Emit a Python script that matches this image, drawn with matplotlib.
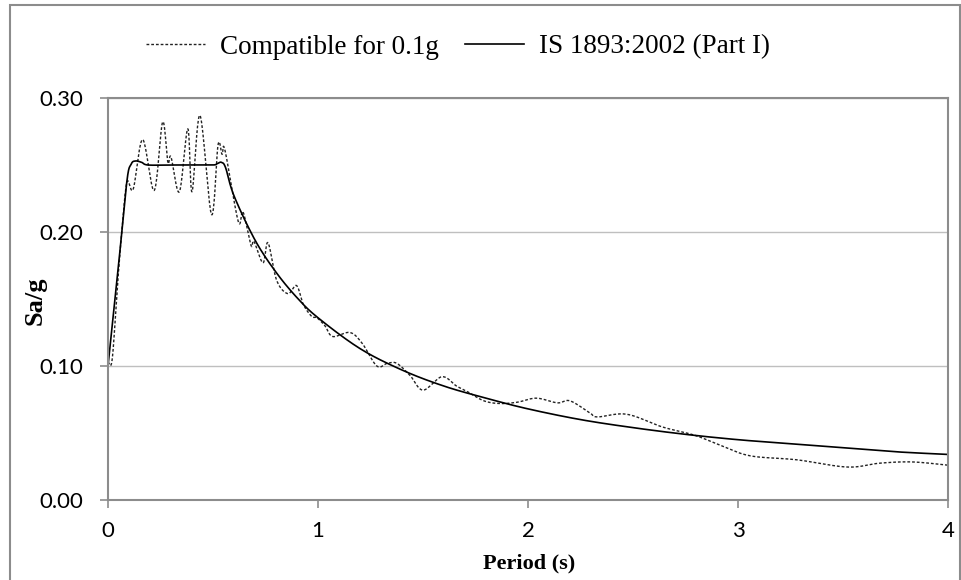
import matplotlib
matplotlib.use('Agg')
import matplotlib.pyplot as plt
import numpy as np

# IS 1893:2002 (Part I) spectrum, 0.1g
is_period = [0.0, 0.05, 0.09, 0.11, 0.13, 0.16, 0.19, 0.3, 0.4, 0.5, 0.52,
             0.54, 0.56, 0.6, 0.7, 0.8, 0.9, 1.0, 1.2, 1.4, 1.6, 1.8, 2.0,
             2.25, 2.5, 2.75, 3.0, 3.25, 3.5, 3.75, 4.0]
is_sa = [0.100, 0.175, 0.238, 0.2505, 0.253, 0.252, 0.250, 0.250, 0.250, 0.250,
         0.251, 0.252, 0.248, 0.227, 0.194, 0.170, 0.151, 0.136, 0.113, 0.097,
         0.085, 0.076, 0.068, 0.060, 0.054, 0.049, 0.045, 0.042, 0.039, 0.036, 0.034]

# spectrum compatible record, 0.1g
cmp_period = [0.0, 0.02, 0.045, 0.065, 0.09, 0.12, 0.165, 0.22, 0.26, 0.285,
              0.30, 0.34, 0.38, 0.40, 0.438, 0.493, 0.524, 0.543, 0.557, 0.62,
              0.643, 0.681, 0.695, 0.738, 0.762, 0.803, 0.856, 0.898, 0.93, 0.97,
              0.995, 1.033, 1.07, 1.152, 1.21, 1.28, 1.33, 1.375, 1.438, 1.50,
              1.59, 1.66, 1.71, 1.79, 1.867, 1.95, 2.04, 2.14, 2.20, 2.295,
              2.33, 2.47, 2.64, 2.79, 2.914, 3.057, 3.28, 3.52, 3.676, 3.83, 4.0]
cmp_sa = [0.103, 0.105, 0.160, 0.199, 0.237, 0.232, 0.269, 0.231, 0.282, 0.252,
          0.256, 0.230, 0.277, 0.230, 0.287, 0.213, 0.265, 0.258, 0.261, 0.208,
          0.215, 0.190, 0.193, 0.177, 0.192, 0.164, 0.154, 0.160, 0.146, 0.137,
          0.136, 0.130, 0.122, 0.125, 0.117, 0.100, 0.102, 0.102, 0.093, 0.082,
          0.092, 0.085, 0.081, 0.074, 0.072, 0.073, 0.076, 0.0725, 0.074, 0.065,
          0.062, 0.064, 0.0545, 0.0485, 0.041, 0.033, 0.030, 0.0246, 0.0275, 0.0284, 0.026]


def smooth(x, y, n=20):
    # Excel-like smoothed line (Catmull-Rom as cubic bezier)
    p = np.column_stack([x, y]).astype(float)
    p = np.vstack([p[0], p, p[-1]])
    out = []
    t = np.linspace(0, 1, n)[:, None]
    for i in range(1, len(p) - 2):
        b0 = p[i]
        b1 = p[i] + (p[i + 1] - p[i - 1]) / 6.0
        b2 = p[i + 1] - (p[i + 2] - p[i]) / 6.0
        b3 = p[i + 1]
        seg = (1 - t)**3 * b0 + 3 * (1 - t)**2 * t * b1 + 3 * (1 - t) * t**2 * b2 + t**3 * b3
        out.append(seg)
    out = np.vstack(out)
    return out[:, 0], out[:, 1]


fig = plt.figure(figsize=(9.62, 5.8), dpi=100)
ax = fig.add_axes([108/962, 1 - 500/580, 840/962, 402/580])

xs, ys = smooth(cmp_period, cmp_sa)
l1, = ax.plot(xs, ys, color='#222222', lw=1.0, linestyle=(0, (2, 1.4)),
              label='Compatible for 0.1g')
xs, ys = smooth(is_period, is_sa)
l2, = ax.plot(xs, ys, color='black', lw=1.2, label='IS 1893:2002 (Part I)')

ax.set_xlim(0, 4)
ax.set_ylim(0, 0.30)
ax.set_xticks([0, 1, 2, 3, 4])
ax.set_xticklabels(['0', '1', '2', '3', '4'])
ax.set_yticks([0.0, 0.1, 0.2, 0.3])
ax.set_yticklabels(['0.00', '0.10', '0.20', '0.30'])
ax.yaxis.grid(True, color='#bfbfbf', lw=1.0)
ax.set_axisbelow(True)
for s in ax.spines.values():
    s.set_color('#8c8c8c')
    s.set_linewidth(1.5)
ax.tick_params(axis='both', colors='#8c8c8c', length=6, width=1.2,
               labelcolor='black', labelsize=16)
ax.tick_params(axis='y', pad=12)
ax.tick_params(axis='x', pad=9)
for lab in ax.get_xticklabels() + ax.get_yticklabels():
    lab.set_fontfamily('Lato')

# axis titles
fig.text(529/962, 1 - 563/580, 'Period (s)', family='Liberation Serif',
         weight='bold', size=16, ha='center', va='center')
fig.text(35/962, 1 - 301/580, 'Sa/g', family='Liberation Serif',
         weight='bold', size=19, ha='center', va='center', rotation=90)

fig.legend(handles=[l1, l2], loc='center', bbox_to_anchor=(458/962, 1 - 47/580),
           ncol=2, frameon=False, prop={'family': 'Liberation Serif', 'size': 19.5},
           handlelength=2.15, handletextpad=0.55, columnspacing=1.0)

# chart area border
fig.patches.append(plt.Rectangle((10/962, -0.05), 950/962, 1 - 5/580 + 0.05,
                                 transform=fig.transFigure, fill=False,
                                 edgecolor='#8c8c8c', lw=1.5))

plt.savefig('out.png', dpi=100)
